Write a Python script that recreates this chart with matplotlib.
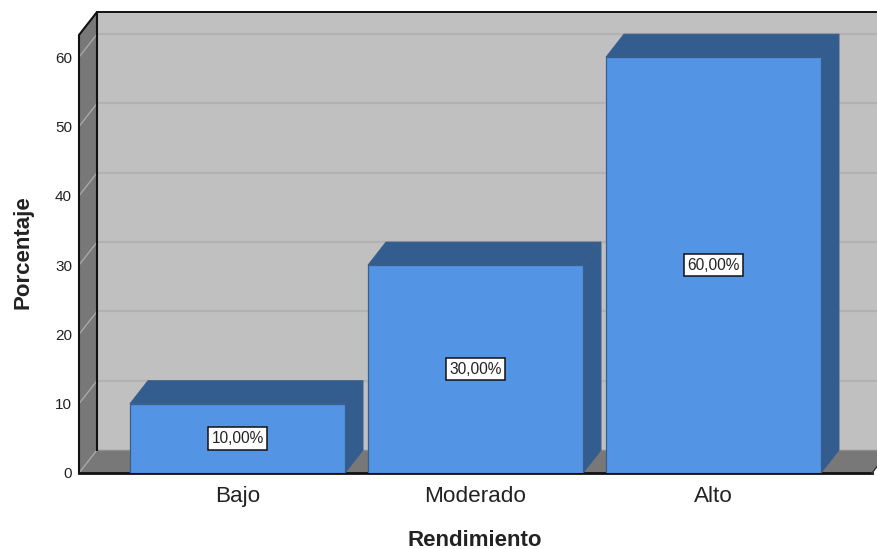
import matplotlib
matplotlib.use("Agg")
import matplotlib.pyplot as plt

plt.rcParams["font.family"] = ["Liberation Sans", "DejaVu Sans"]

categories = ["Bajo", "Moderado", "Alto"]
percentages = [10, 30, 60]
value_labels = ["10,00%", "30,00%", "60,00%"]
y_ticks = [0, 10, 20, 30, 40, 50, 60]

FIG_W, FIG_H = 878, 549
LEFT, RIGHT, BOTTOM, TOP = 79, 872, 473, 35

fig = plt.figure(figsize=(FIG_W / 100, FIG_H / 100), dpi=100, facecolor="white")
ax = fig.add_axes([LEFT / FIG_W, 1 - BOTTOM / FIG_H,
                   (RIGHT - LEFT) / FIG_W, (BOTTOM - TOP) / FIG_H])

ax.set_xlim(-0.666, 2.666)
ax.set_ylim(0, 63.2)
ax.patch.set_visible(False)

# Oblique depth of the box, in data units
DX = 18 / 238
DY = 23 / 6.93
BAR_W = 215 / 238

WALL = "#c0c0c0"
SIDE = "#787878"
GRID_BACK = "#b2b2b2"
GRID_SIDE = "#a8a8a8"
BAR = "#5394e5"
BAR_DARK = "#335c8f"
BAR_EDGE = "#3a5f8c"
TEXT = "#222222"

x0, x1 = ax.get_xlim()
y1 = ax.get_ylim()[1]
nc = dict(clip_on=False)

# Back wall, left wall and floor
ax.fill([x0 + DX, x1 + DX, x1 + DX, x0 + DX], [DY, DY, y1 + DY, y1 + DY],
        color=WALL, lw=0, zorder=1, **nc)
ax.fill([x0, x0 + DX, x0 + DX, x0], [0, DY, y1 + DY, y1],
        color=SIDE, lw=0, zorder=1, **nc)
ax.fill([x0, x1, x1 + DX, x0 + DX], [0, 0, DY, DY],
        color=SIDE, lw=0, zorder=1, **nc)

# Gridlines run across the back wall and down the left wall
for t in y_ticks[1:]:
    ax.plot([x0 + DX, x1 + DX], [t + DY, t + DY], color=GRID_BACK, lw=1.6, zorder=2, **nc)
    ax.plot([x0, x0 + DX], [t, t + DY], color=GRID_SIDE, lw=1.0, zorder=2, **nc)
ax.plot([x0, x0 + DX], [0, DY], color=GRID_SIDE, lw=1.0, zorder=2, **nc)
ax.plot([x0 + DX, x1 + DX], [DY, DY], color="#8c8c8c", lw=1.0, zorder=2, **nc)

# Box outline
ax.plot([x0, x0, x0 + DX, x0 + DX], [0, y1, y1 + DY, DY], color="#111111", lw=1.5,
        zorder=3, solid_joinstyle="miter", **nc)
ax.plot([x0 + DX, x1 + DX], [y1 + DY, y1 + DY], color="#111111", lw=1.4, zorder=3, **nc)
ax.plot([x0, x1], [0, 0], color="#111111", lw=2.0, zorder=3, **nc)
ax.plot([x1, x1 + DX], [0, DY], color="#333333", lw=1.0, zorder=3, **nc)

# Bars: front face plus top and side faces
for i, (value, label) in enumerate(zip(percentages, value_labels)):
    left, right = i - BAR_W / 2, i + BAR_W / 2
    ax.bar(i, value, width=BAR_W, color=BAR, edgecolor=BAR_EDGE, linewidth=0.9, zorder=5)
    ax.fill([left, left + DX, right + DX, right], [value, value + DY, value + DY, value],
            facecolor=BAR_DARK, edgecolor=BAR_EDGE, linewidth=0.7, zorder=4, **nc)
    ax.fill([right, right + DX, right + DX, right], [0, DY, value + DY, value],
            facecolor=BAR_DARK, edgecolor=BAR_EDGE, linewidth=0.7, zorder=4, **nc)
    ax.text(i, value / 2, label, ha="center", va="center", fontsize=11.2, color=TEXT,
            zorder=6, bbox=dict(boxstyle="square,pad=0.24", facecolor="white",
                                edgecolor="#111111", linewidth=1.1))

for spine in ax.spines.values():
    spine.set_visible(False)

ax.set_xticks(range(len(categories)), categories)
ax.set_yticks(y_ticks)
ax.tick_params(axis="x", length=0, pad=9.5, labelsize=16.2, labelcolor=TEXT)
ax.tick_params(axis="y", length=0, pad=5, labelsize=11, labelcolor=TEXT)

fig.text(475 / FIG_W, 1 - 540 / FIG_H, "Rendimiento", ha="center", va="center",
         fontsize=16, fontweight="bold", color=TEXT)
fig.text(23.5 / FIG_W, 1 - 252 / FIG_H, "Porcentaje", ha="center", va="center",
         rotation=90, fontsize=16, fontweight="bold", color=TEXT)

fig.savefig("out.png", dpi=100, facecolor="white")
